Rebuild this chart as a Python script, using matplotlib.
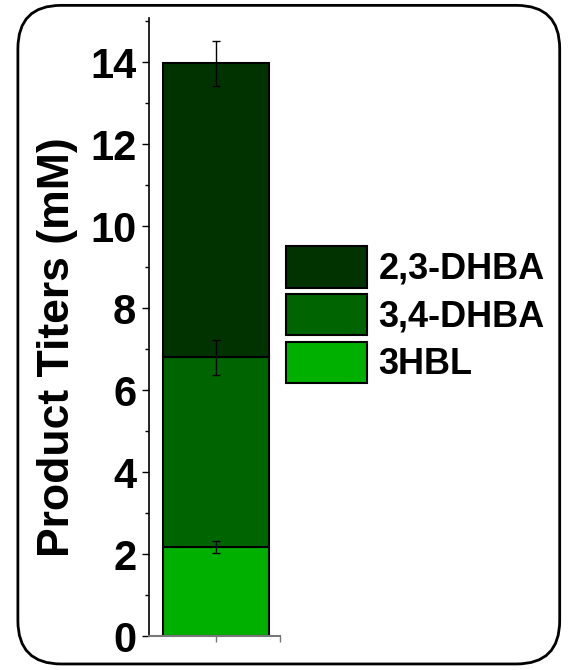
import numpy as np
import matplotlib.pyplot as plt
from matplotlib.patches import FancyBboxPatch, Patch

plt.rcParams['font.family'] = ['Liberation Sans', 'DejaVu Sans']
plt.rcParams['font.weight'] = 'bold'

# stacked product titers (mM)
products = ['3HBL', '3,4-DHBA', '2,3-DHBA']
titers = [2.18, 4.62, 7.17]
errors = [0.15, 0.43, 0.55]
colors = ['#00b000', '#006400', '#003300']

fig = plt.figure(figsize=(5.77, 6.70), dpi=100)
ax = fig.add_axes([0.258, 0.0507, 0.227, 0.922])

bottom = 0
tops = []
for name, val, col in zip(products, titers, colors):
    ax.bar(0, val, width=0.8, bottom=bottom, color=col, edgecolor='black', linewidth=1.5, label=name)
    bottom += val
    tops.append(bottom)
ax.errorbar([0]*3, tops, yerr=errors, fmt='none', ecolor='black', elinewidth=1, capsize=3, capthick=1)

ax.set_xlim(-0.505, 0.485)
ax.set_ylim(0, 15.07)
ax.set_yticks(np.arange(0, 15, 2))
ax.set_yticks(np.arange(1, 16, 2), minor=True)
ax.set_xticks([0, 0.485])
ax.set_xticklabels([])
ax.tick_params(axis='y', which='major', labelsize=30, length=5, width=1, pad=4)
ax.tick_params(axis='y', which='minor', length=3, width=1)
ax.tick_params(axis='x', length=4, width=1, color='#777777')
for lab in ax.get_yticklabels():
    lab.set_fontweight('bold')
ax.spines['top'].set_visible(False)
ax.spines['right'].set_visible(False)
ax.spines['left'].set_linewidth(1.2)
ax.spines['bottom'].set_color('#777777')
ax.spines['bottom'].set_linewidth(1.5)

fig.text(0.099, 0.482, 'Product Titers (mM)', rotation=90, fontsize=32, fontweight='bold',
         ha='center', va='center')

handles = [Patch(facecolor=c, edgecolor='black', linewidth=1.5) for c in colors[::-1]]
leg = fig.legend(handles, products[::-1], loc='upper left', bbox_to_anchor=(0.496, 0.633),
                 frameon=False, fontsize=26, handlelength=2.25, handleheight=1.4,
                 labelspacing=0.17, handletextpad=0.3, borderaxespad=0, borderpad=0)
for t in leg.get_texts():
    t.set_fontweight('bold')

box = FancyBboxPatch((0.031, 0.009), 0.939, 0.983, boxstyle='round,pad=0,rounding_size=0.075',
                     transform=fig.transFigure, facecolor='none', edgecolor='black',
                     linewidth=2, mutation_aspect=577/670)
fig.patches.append(box)

fig.savefig('out.png', dpi=100)
